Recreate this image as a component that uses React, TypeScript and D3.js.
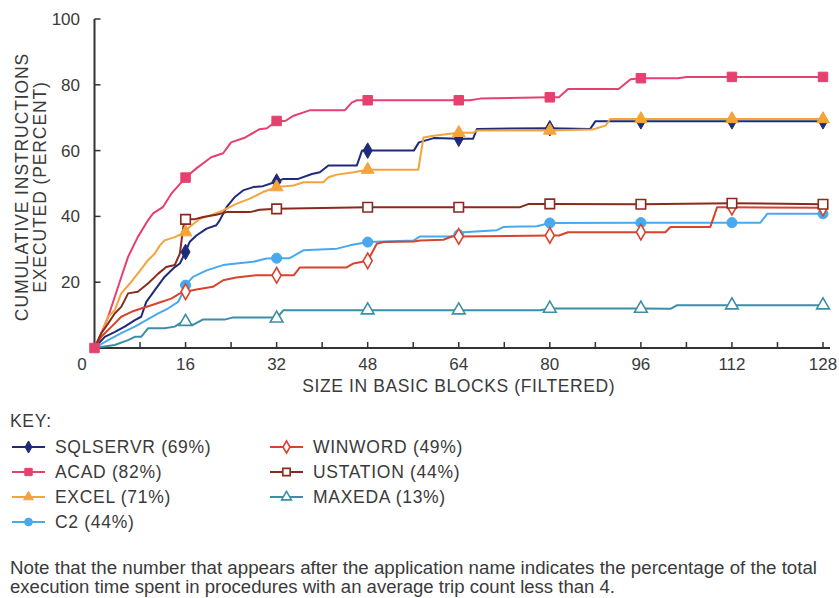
import React from "react";
import * as d3 from "d3";

type Pt = [number, number];

// Cumulative instructions executed (percent) vs. basic-block size (filtered)
const SQLSERVR: Pt[] = [[0,0],[1.8,3.4],[3.6,4.9],[5.3,6.5],[7.1,8.5],[8.2,9.5],[9.1,14],[10.6,17.6],[12.3,21.6],[14.1,24.6],[15,25.7],[16,29.2],[16.7,32.2],[17.9,34.2],[19.7,36.3],[21.4,37.3],[22,38.8],[23.2,42.8],[24.6,45.8],[26.1,47.9],[27.9,48.9],[29.6,49.2],[32,50.6],[33.2,51.4],[35.8,51.4],[38.2,52.9],[39.6,53.4],[41.1,55.5],[46.1,55.5],[47,60],[48,60],[56.1,60],[57,62.5],[59.6,63.8],[64,63.6],[66.5,63.6],[67.2,66.6],[80,66.8],[87.1,66.6],[88,68.9],[96,68.9],[112,68.9],[128,68.9]];
const ACAD: Pt[] = [[0,0],[1.2,4.5],[2.4,9.5],[3.55,15.5],[4.7,21.5],[5.9,27.7],[7.6,33.7],[9.4,38.8],[10.3,40.9],[12,42.8],[13.5,46.9],[16,51.8],[17.9,54.6],[20.5,58],[22.6,59.2],[24,62.5],[26.5,64],[29,66.5],[30.3,66.8],[32,69],[33.5,69],[35,70.6],[37.9,72.3],[44,72.3],[45.2,74.6],[46.1,75.3],[48,75.3],[64,75.3],[66,75.3],[67.8,75.8],[80,76.2],[81.6,76.2],[83.2,78.7],[92.1,78.7],[94.2,81.7],[96,82],[102.5,82],[104.1,82.4],[112,82.4],[128,82.4]];
const EXCEL: Pt[] = [[0,0],[1.5,5.5],[2.4,9.5],[3.55,11.5],[4.7,16.6],[6.2,19.6],[7.6,22.6],[9.4,26.7],[10.6,28.7],[11.5,31.2],[12.3,32.7],[14.1,33.7],[16,35.2],[16.7,36.8],[18.5,39.3],[20.3,40.3],[22.6,41.8],[24.9,43.8],[27.3,45.4],[29.6,47.4],[32,48.9],[35,49.4],[36.7,50.4],[40.2,50.4],[41.1,51.9],[42.6,52.7],[45.5,53.4],[48,54.2],[56.9,54.2],[57.8,64],[59.6,64.5],[62.5,65.1],[64,65.4],[66.5,65.4],[67.2,66.1],[80,66.1],[87.5,66.4],[89.8,67.6],[90.6,69.6],[96,69.6],[112,69.6],[128,69.6]];
const C2: Pt[] = [[0,0],[2.4,2.4],[4.7,4.5],[7.1,6.5],[9.1,8.5],[11.2,10.5],[12.9,12],[14.7,14],[15.3,16.1],[16,19.1],[17.3,21.6],[19.7,23.6],[22.6,25.2],[24.9,25.7],[27.9,26.2],[30.2,27.2],[32,27.3],[34.3,27.3],[36.7,29.7],[42.6,30.2],[44.9,31.2],[48,32.2],[56.1,32.7],[57.2,33.9],[62.5,33.9],[64,34.4],[64.8,35.2],[70.7,35.8],[71.9,36.8],[77.7,37],[80,38],[96,38.1],[112,38.1],[117,38.1],[118.2,40.8],[128,40.8]];
const WINWORD: Pt[] = [[0,0],[1.2,3.4],[3,6.5],[4.7,9.5],[6.5,11],[8.2,12],[10,13],[11.7,14],[13.5,15],[15,16.6],[16,17.1],[17.9,17.8],[20.8,18.6],[22.6,20.6],[24.9,21.4],[28.4,22.1],[32,22.1],[35,22.1],[36.1,24.5],[44.3,24.5],[45.5,25.7],[48,26.5],[49.6,31.7],[50.8,32.2],[56.1,32.4],[57.2,32.7],[61.3,32.9],[62.8,33.9],[64,33.9],[80,34.2],[81.6,34.2],[83.2,35.2],[96,35.2],[100.3,35.2],[101.2,36.8],[108.2,36.8],[109.4,42.8],[112,42.8],[128,42.6]];
const USTATION: Pt[] = [[0,0],[1.2,4.5],[2.4,7.5],[3.55,10.5],[4.7,12.5],[5.9,16.6],[7.6,17.1],[9.4,19.6],[11.2,22.6],[12.6,24.6],[14.1,25.2],[15,28.7],[15.6,36.8],[16,39.1],[17.5,39.1],[19.1,39.8],[21.4,40.5],[23.2,41.3],[27.3,41.3],[29,42],[32,42.3],[48,42.8],[64,42.8],[74.8,42.8],[76.3,43.8],[80,43.8],[96,43.7],[112,44],[128,43.7]];
const MAXEDA: Pt[] = [[0,0],[3.55,0.9],[5.9,2.4],[7.1,3.4],[8.2,3.4],[9.4,6],[12.3,6],[14.1,6.5],[15,7.5],[16,8],[17.3,7],[19.1,8.7],[23,8.7],[24.4,9.3],[31.4,9.3],[32,9],[33.2,11.5],[48,11.5],[64,11.5],[78.3,11.5],[80,12],[96,12],[101.2,11.9],[102.4,13],[112,13],[128,13]];

const seriesNames = ["SQLSERVR", "ACAD", "EXCEL", "C2", "WINWORD", "USTATION", "MAXEDA"];
const seriesShares = [69, 82, 71, 44, 49, 44, 13];
const seriesData = [SQLSERVR, ACAD, EXCEL, C2, WINWORD, USTATION, MAXEDA];

const xTickValues = [0, 8, 16, 24, 32, 40, 48, 56, 64, 72, 80, 88, 96, 104, 112, 120, 128];
const xLabelValues = [16, 32, 48, 64, 80, 96, 112, 128];
const yLabelValues = [20, 40, 60, 80, 100];
const markerXs = [16, 32, 48, 64, 80, 96, 112, 128];

type Shape = "diamond" | "square" | "triangle" | "circle";
const styles: { color: string; shape: Shape; hollow: boolean }[] = [
  { color: "#1f2a78", shape: "diamond", hollow: false },
  { color: "#e5406f", shape: "square", hollow: false },
  { color: "#f5a43c", shape: "triangle", hollow: false },
  { color: "#48a9ee", shape: "circle", hollow: false },
  { color: "#d8432d", shape: "diamond", hollow: true },
  { color: "#8a2a1c", shape: "square", hollow: true },
  { color: "#3b8ea6", shape: "triangle", hollow: true },
];

const FONT = "'Liberation Sans', Arial, Helvetica, sans-serif";
const TEXT = "#3a3a3a";

const x = d3.scaleLinear().domain([0, 128]).range([94.5, 823]);
const y = d3.scaleLinear().domain([0, 100]).range([348, 19]);

function valueAt(pts: Pt[], xv: number): number {
  const i = d3.bisector((d: Pt) => d[0]).left(pts, xv);
  if (i < pts.length && pts[i][0] === xv) return pts[i][1];
  const a = pts[Math.max(0, i - 1)], b = pts[Math.min(pts.length - 1, i)];
  if (b[0] === a[0]) return a[1];
  return a[1] + ((xv - a[0]) / (b[0] - a[0])) * (b[1] - a[1]);
}

function markerPath(shape: Shape, scale: number): string {
  const t = {
    diamond: d3.symbolDiamond,
    square: d3.symbolSquare,
    triangle: d3.symbolTriangle,
    circle: d3.symbolCircle,
  }[shape];
  const base = { diamond: 70, square: 90, triangle: 70, circle: 80 }[shape];
  return d3.symbol().type(t).size(base * scale)() as string;
}

function Marker({ cx, cy, idx, scale }: { cx: number; cy: number; idx: number; scale: number }) {
  const s = styles[idx];
  return (
    <path
      d={markerPath(s.shape, scale)}
      transform={`translate(${cx},${cy})`}
      fill={s.hollow ? "#fff" : s.color}
      stroke={s.color}
      strokeWidth={s.hollow ? 1.6 : 1}
    />
  );
}

export default function App() {
  const line = d3
    .line<Pt>()
    .x((d) => x(d[0]))
    .y((d) => y(d[1]));

  const legendRows = [
    { col: 0, row: 0 }, { col: 0, row: 1 }, { col: 0, row: 2 }, { col: 0, row: 3 },
    { col: 1, row: 0 }, { col: 1, row: 1 }, { col: 1, row: 2 },
  ];

  return (
    <svg width={839} height={598} style={{ position: "absolute", left: 0, top: 0, background: "#fff" }}>
      <rect width={839} height={598} fill="#fff" />

      {/* axes */}
      <g stroke="#333" strokeWidth={2} fill="none">
        <line x1={x(0)} x2={x(0)} y1={y(100)} y2={y(0)} />
        <line x1={x(0)} x2={830} y1={y(0)} y2={y(0)} />
        {yLabelValues.map((v) => (
          <line key={v} x1={x(0)} x2={x(0) + 6} y1={y(v)} y2={y(v)} strokeWidth={1.5} />
        ))}
        {xTickValues.filter((v) => v > 0).map((v) => (
          <line key={v} x1={x(v)} x2={x(v)} y1={y(0)} y2={y(0) - 6} strokeWidth={1.5} />
        ))}
      </g>

      <g fontFamily={FONT} fontSize={17} fill={TEXT}>
        {yLabelValues.map((v) => (
          <text key={v} x={80} y={y(v)} dy="0.35em" textAnchor="end">{v}</text>
        ))}
        <text x={82} y={364} dy="0.35em" textAnchor="middle">0</text>
        {xLabelValues.map((v) => (
          <text key={v} x={x(v)} y={364} dy="0.35em" textAnchor="middle">{v}</text>
        ))}
        <text x={x(64)} y={386} dy="0.35em" textAnchor="middle" fontSize={17.5} letterSpacing={0.6}>
          SIZE IN BASIC BLOCKS (FILTERED)
        </text>
        <g transform="translate(22,187) rotate(-90)" fontSize={17.5} letterSpacing={0.9}>
          <text x={0} y={0} dy="0.35em" textAnchor="middle">CUMULATIVE INSTRUCTIONS</text>
          <text x={0} y={18} dy="0.35em" textAnchor="middle">EXECUTED (PERCENT)</text>
        </g>
      </g>

      {/* series lines */}
      <g fill="none" strokeWidth={2} strokeLinejoin="round">
        {seriesData.map((pts, i) => (
          <path key={seriesNames[i]} d={line(pts) as string} stroke={styles[i].color} />
        ))}
      </g>

      {/* series markers */}
      <g>
        {seriesData.map((pts, i) =>
          markerXs.map((mx) => (
            <Marker key={`${i}-${mx}`} cx={x(mx)} cy={y(valueAt(pts, mx))} idx={i} scale={1} />
          ))
        )}
        <Marker cx={x(0)} cy={y(valueAt(ACAD, 0))} idx={1} scale={1} />
      </g>

      {/* key */}
      <g fontFamily={FONT} fontSize={17.5} fill={TEXT} letterSpacing={0.7}>
        <text x={10} y={421} dy="0.35em">KEY:</text>
        {legendRows.map((p, i) => {
          const lx = p.col === 0 ? 12 : 270;
          const ly = 447 + p.row * 25;
          return (
            <g key={seriesNames[i]}>
              <line x1={lx} x2={lx + 33} y1={ly} y2={ly} stroke={styles[i].color} strokeWidth={2} />
              <Marker cx={lx + 16.5} cy={ly} idx={i} scale={0.6} />
              <text x={lx + 43} y={ly} dy="0.35em">{`${seriesNames[i]} (${seriesShares[i]}%)`}</text>
            </g>
          );
        })}
      </g>

      <g fontFamily="'Liberation Sans Narrow', 'Arial Narrow', 'Liberation Sans', sans-serif" fontSize={17.5} fill={TEXT}>
        <text x={10} y={568} dy="0.35em" textLength={807} lengthAdjust="spacingAndGlyphs">
          Note that the number that appears after the application name indicates the percentage of the total
        </text>
        <text x={10} y={587} dy="0.35em" textLength={605} lengthAdjust="spacingAndGlyphs">
          execution time spent in procedures with an average trip count less than 4.
        </text>
      </g>
    </svg>
  );
}
